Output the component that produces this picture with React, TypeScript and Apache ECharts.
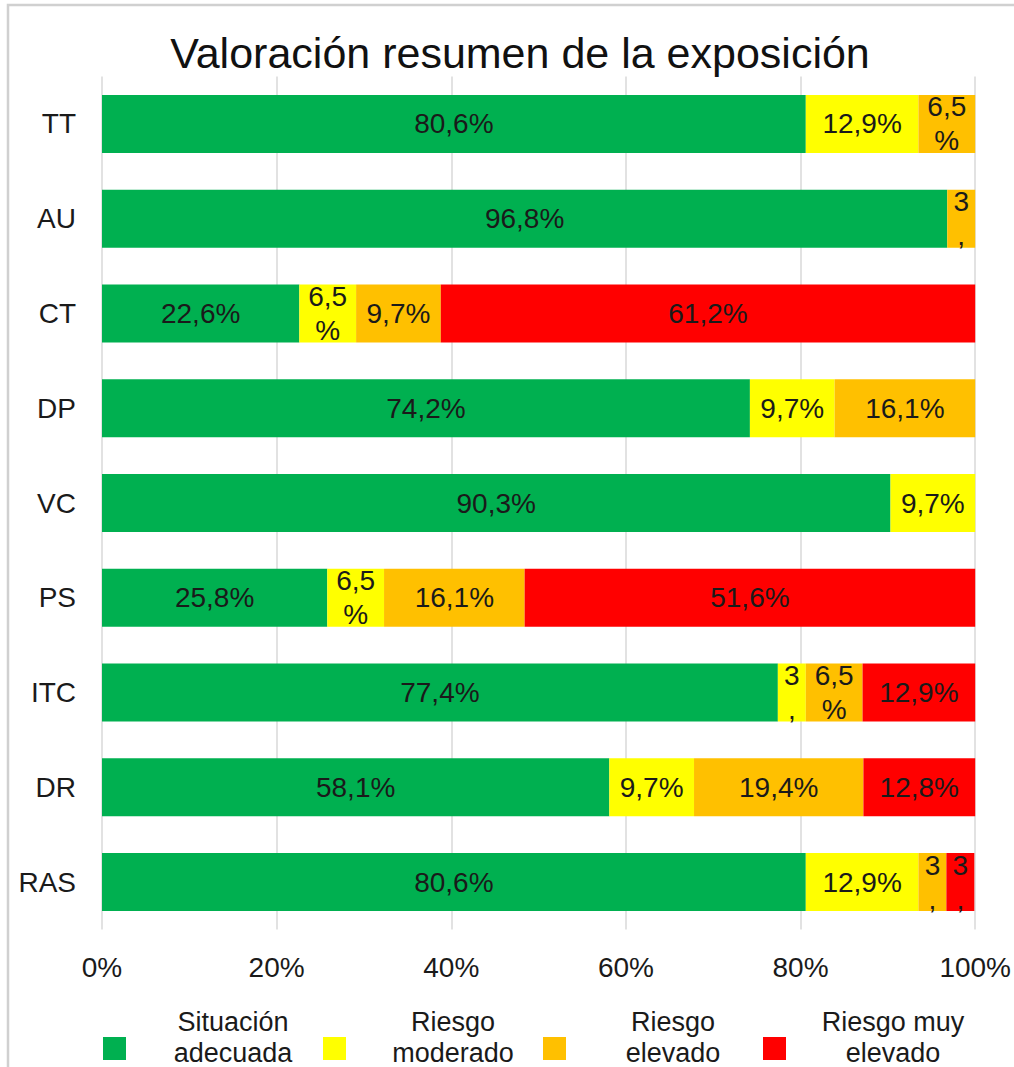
import React, { useEffect, useRef } from "react";
import * as echarts from "echarts";

const categories = ["TT", "AU", "CT", "DP", "VC", "PS", "ITC", "DR", "RAS"];
const seriesNames = ["Situación adecuada", "Riesgo moderado", "Riesgo elevado", "Riesgo muy elevado"];
const legendLabels = ["Situación\nadecuada", "Riesgo\nmoderado", "Riesgo\nelevado", "Riesgo muy\nelevado"];
const colors = ["#00B050", "#FFFF00", "#FFC000", "#FF0000"];

const situacionAdecuada = [80.6, 96.8, 22.6, 74.2, 90.3, 25.8, 77.4, 58.1, 80.6];
const riesgoModerado = [12.9, 0, 6.5, 9.7, 9.7, 6.5, 3.2, 9.7, 12.9];
const riesgoElevado = [6.5, 3.2, 9.7, 16.1, 0, 16.1, 6.5, 19.4, 3.2];
const riesgoMuyElevado = [0, 0, 61.2, 0, 0, 51.6, 12.9, 12.8, 3.2];

const xTicks = [0, 20, 40, 60, 80, 100];

const seriesData = [situacionAdecuada, riesgoModerado, riesgoElevado, riesgoMuyElevado];

const FONT = '"Liberation Sans", Arial, sans-serif';

function fmtLabel(v: number): string {
  if (!v) return "";
  const s = v.toFixed(1).replace(".", ",") + "%";
  if (v < 5) return s.charAt(0) + "\n" + s.charAt(1);
  if (v < 8) return s.slice(0, -1) + "\n%";
  return s;
}

export default function App() {
  const ref = useRef<HTMLDivElement>(null);
  useEffect(() => {
    if (!ref.current) return;
    const chart = echarts.init(ref.current, null, { renderer: "svg" });
    const W = chart.getWidth();

    const legendGraphics: any[] = [];
    legendLabels.forEach((lbl, i) => {
      const x0 = 103 + i * 220;
      legendGraphics.push({
        type: "rect",
        shape: { x: x0, y: 1037, width: 23, height: 23 },
        style: { fill: colors[i] },
        silent: true,
      });
      legendGraphics.push({
        type: "text",
        x: x0 + 130,
        y: 1037,
        style: {
          text: lbl,
          fill: "#1a1a1a",
          font: `27px ${FONT}`,
          align: "center",
          verticalAlign: "middle",
          lineHeight: 31,
        },
        silent: true,
      });
    });

    chart.setOption({
      animation: false,
      backgroundColor: "#ffffff",
      title: {
        text: "Valoración resumen de la exposición",
        left: 515,
        textAlign: "center",
        top: 26,
        textStyle: { fontFamily: FONT, fontSize: 43, fontWeight: "normal", color: "#111" },
      },
      grid: { left: 102, right: 34, top: 76.6, bottom: 137.5, containLabel: false },
      xAxis: {
        type: "value",
        min: 0,
        max: 100,
        interval: 20,
        axisLine: { show: false },
        axisTick: { show: false },
        splitLine: { show: true, lineStyle: { color: "#d9d9d9", width: 1.5 } },
        axisLabel: {
          formatter: (v: number) => (xTicks.includes(v) ? v + "%" : ""),
          fontFamily: FONT,
          fontSize: 28,
          color: "#1a1a1a",
          margin: 24,
        },
      },
      yAxis: {
        type: "category",
        data: categories,
        inverse: true,
        axisLine: { show: false },
        axisTick: { show: false },
        axisLabel: { fontFamily: FONT, fontSize: 28, color: "#1a1a1a", margin: 26 },
      },
      series: seriesNames.map((name, i) => ({
        name,
        type: "bar",
        stack: "total",
        barWidth: 58,
        itemStyle: { color: colors[i] },
        label: {
          show: true,
          position: "inside",
          fontFamily: FONT,
          fontSize: 28,
          color: "#1a1a1a",
          lineHeight: 34,
          formatter: (p: any) => fmtLabel(p.value),
        },
        data: seriesData[i],
      })),
      graphic: [
        {
          type: "rect",
          shape: { x: 8, y: 5, width: W, height: 1100 },
          style: { fill: "none", stroke: "#d0d0d0", lineWidth: 2.5 },
          silent: true,
        },
        ...legendGraphics,
      ],
    });
    return () => chart.dispose();
  }, []);
  return (
    <div
      ref={ref}
      style={{ position: "absolute", left: 0, top: 0, width: 1014, height: 1067 }}
    />
  );
}
